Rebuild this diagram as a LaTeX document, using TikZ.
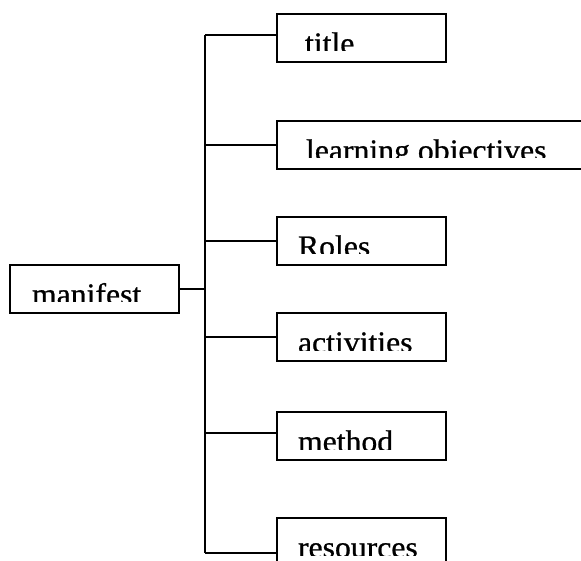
\documentclass[tikz,border=0pt]{standalone}
\usepackage{fontspec}
\setmainfont{Liberation Serif}
\newfontfamily\boxfont[FakeBold=0.8]{Liberation Serif}
% label set inside the upper part of a box, cut off at the box's text line
\newcommand\boxlabel[4]{%
  \begin{scope}
    \clip (#1.north west) rectangle ([yshift=-37pt]#1.north east);
    \node[lbl] (#3) at ([xshift=#2pt,yshift=-39.5pt]#1.north west) {\scalebox{1.04}[1]{#4}};
  \end{scope}}
\begin{document}
\begin{tikzpicture}[x=1pt,y=-1pt,
  box/.style={draw, line width=1.8pt, rectangle, inner sep=0pt, outer sep=0pt,
              anchor=north west, minimum height=48pt},
  lbl/.style={inner sep=0pt, outer sep=0pt, anchor=base west,
              font=\boxfont\fontsize{30.5}{35}\selectfont},
  link/.style={line width=1.8pt}]
\useasboundingbox (0,0) rectangle (581,561);
\clip (0,0) rectangle (581,561);

% boxes
\node[box, minimum width=169pt] (manifest)   at (10,265)  {};
\node[box, minimum width=169pt] (title)      at (277,14)  {};
\node[box, minimum width=330pt] (objectives) at (277,121) {};
\node[box, minimum width=169pt] (roles)      at (277,217) {};
\node[box, minimum width=169pt] (activities) at (277,313) {};
\node[box, minimum width=169pt] (method)     at (277,412) {};
\node[box, minimum width=169pt] (resources)  at (277,518) {};

% labels
\boxlabel{manifest}{22}{tmanifest}{manifest}
\boxlabel{title}{28}{ttitle}{title}
\boxlabel{objectives}{29}{tobjectives}{learning objectives}
\boxlabel{roles}{21}{troles}{Roles}
\boxlabel{activities}{21}{tactivities}{activities}
\boxlabel{method}{21}{tmethod}{method}
\boxlabel{resources}{21}{tresources}{resources}

% junctions on the trunk
\coordinate (jtitle) at (205,35);
\coordinate (jobj)   at (205,145);
\coordinate (jroles) at (205,241);
\coordinate (jman)   at (205,289);
\coordinate (jact)   at (205,337);
\coordinate (jmeth)  at (205,433);
\coordinate (jres)   at (205,553);

% trunk and branches
\draw[link] (jtitle) -- (jres);
\draw[link] (manifest.east |- jman) -- (jman);
\draw[link] (jtitle) -- (title.west |- jtitle);
\draw[link] (jobj)   -- (objectives.west |- jobj);
\draw[link] (jroles) -- (roles.west |- jroles);
\draw[link] (jact)   -- (activities.west |- jact);
\draw[link] (jmeth)  -- (method.west |- jmeth);
\draw[link] (jres)   -- (resources.west |- jres);
\end{tikzpicture}
\end{document}
